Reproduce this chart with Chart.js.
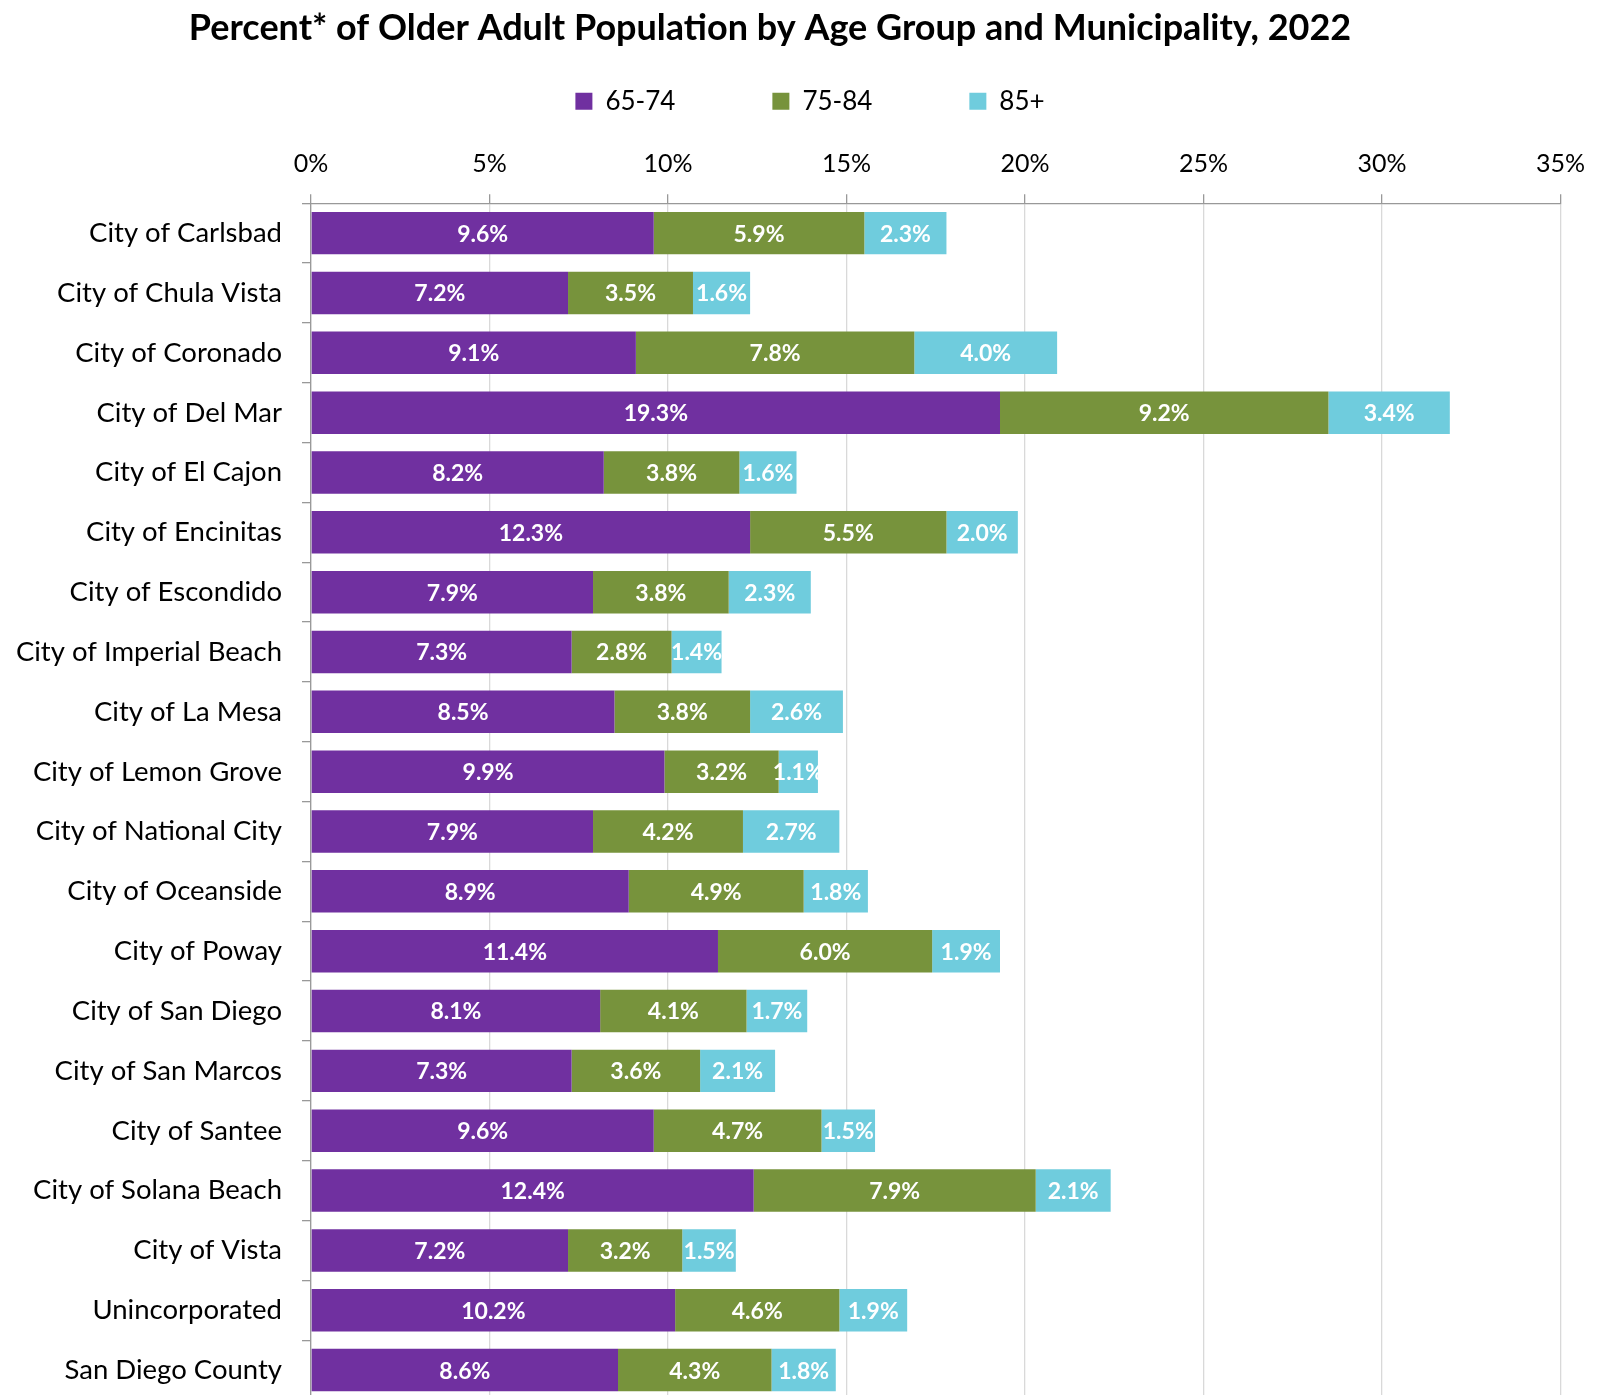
<!DOCTYPE html>
<html>
<head>
<meta charset="utf-8">
<script src="https://cdn.jsdelivr.net/npm/chart.js@4.4.1/dist/chart.umd.min.js"></script>
<style>
	html, body { margin: 0; padding: 0; background: #fff; overflow: hidden; }
	#wrap { width: 1600px; height: 1400px; }
</style>
</head>
<body>
<div id="wrap"><canvas id="myChart" width="1600" height="1400"></canvas></div>
<script>
const municipalities = [
	"City of Carlsbad", "City of Chula Vista", "City of Coronado", "City of Del Mar",
	"City of El Cajon", "City of Encinitas", "City of Escondido", "City of Imperial Beach",
	"City of La Mesa", "City of Lemon Grove", "City of National City", "City of Oceanside",
	"City of Poway", "City of San Diego", "City of San Marcos", "City of Santee",
	"City of Solana Beach", "City of Vista", "Unincorporated", "San Diego County"
]
const age65to74 = [9.6, 7.2, 9.1, 19.3, 8.2, 12.3, 7.9, 7.3, 8.5, 9.9, 7.9, 8.9, 11.4, 8.1, 7.3, 9.6, 12.4, 7.2, 10.2, 8.6]
const age75to84 = [5.9, 3.5, 7.8, 9.2, 3.8, 5.5, 3.8, 2.8, 3.8, 3.2, 4.2, 4.9, 6.0, 4.1, 3.6, 4.7, 7.9, 3.2, 4.6, 4.3]
const age85plus = [2.3, 1.6, 4.0, 3.4, 1.6, 2.0, 2.3, 1.4, 2.6, 1.1, 2.7, 1.8, 1.9, 1.7, 2.1, 1.5, 2.1, 1.5, 1.9, 1.8]
const xTicks = [0, 5, 10, 15, 20, 25, 30, 35]

const FONT = "Lato, 'Open Sans', sans-serif"

// white value labels in the middle of each segment
const barLabels = {
	id: "barLabels",
	afterDatasetsDraw(chart) {
		const ctx = chart.ctx
		ctx.save()
		ctx.fillStyle = "#ffffff"
		ctx.font = "bold 23px " + FONT
		ctx.textAlign = "center"
		ctx.textBaseline = "middle"
		chart.data.datasets.forEach((ds, i) => {
			chart.getDatasetMeta(i).data.forEach((bar, j) => {
				const p = bar.getProps(["x", "y", "base"], true)
				ctx.fillText(ds.data[j].toFixed(1) + "%", (p.x + p.base) / 2, p.y + 1)
			})
		})
		ctx.restore()
	}
}

// nudge title and legend to sit like the original
// (legend padding is big for the horizontal gaps, so pull it up a bit)
const nudgeBoxes = {
	id: "nudgeBoxes",
	afterLayout(chart) {
		chart.titleBlock.left -= 13
		chart.titleBlock.right -= 13
		chart.legend.left += 27
		chart.legend.right += 27
		chart.legend.top -= 16
		chart.legend.bottom -= 16
	}
}

new Chart("myChart", {
	type: "bar",
	data: {
		labels: municipalities,
		datasets: [
			{ label: "65-74", data: age65to74, backgroundColor: "#7030A0" },
			{ label: "75-84", data: age75to84, backgroundColor: "#77933C" },
			{ label: "85+", data: age85plus, backgroundColor: "#6FCCDD" }
		]
	},
	plugins: [barLabels, nudgeBoxes],
	options: {
		indexAxis: "y",
		responsive: false,
		animation: false,
		barPercentage: 0.71,
		categoryPercentage: 1,
		layout: { padding: { left: 0, right: 34, top: 7, bottom: 0 } },
		plugins: {
			title: {
				display: true,
				text: "Percent* of Older Adult Population by Age Group and Municipality, 2022",
				color: "#000",
				font: { family: FONT, size: 36, weight: "bold" },
				padding: { top: 0, bottom: -43 }
			},
			legend: {
				display: true,
				position: "top",
				labels: {
					color: "#000",
					font: { family: FONT, size: 26 },
					boxWidth: 17,
					boxHeight: 17,
					padding: 97,
					useBorderRadius: false
				}
			},
			tooltip: { enabled: false }
		},
		scales: {
			x: {
				position: "top",
				stacked: true,
				min: 0,
				max: 35,
				afterBuildTicks: s => { s.ticks = xTicks.map(v => ({ value: v })) },
				afterFit: s => { s.height = 63 },
				ticks: {
					color: "#000",
					font: { family: FONT, size: 25 },
					padding: 15,
					callback: v => v + "%"
				},
				grid: { color: "#d9d9d9", tickColor: "#999", tickLength: 9, lineWidth: 1.3 },
				border: { color: "#999", width: 1.3 }
			},
			y: {
				stacked: true,
				afterFit: s => {
					s.width = 311
					s.paddingTop = 0
					s.paddingBottom = 0
				},
				ticks: {
					color: "#000",
					font: { family: FONT, size: 27.5 },
					padding: 20
				},
				grid: { drawOnChartArea: false, color: "#999", tickLength: 9, lineWidth: 1.3 },
				border: { color: "#999", width: 1.3 }
			}
		}
	}
})
</script>
</body>
</html>
